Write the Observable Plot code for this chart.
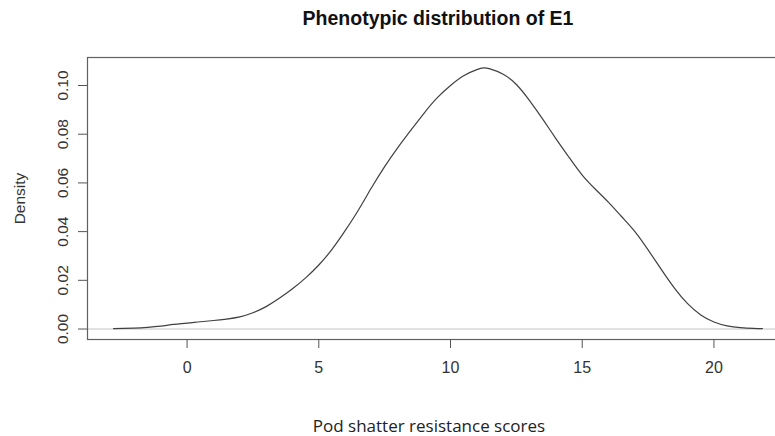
<!DOCTYPE html>
<html>
<head>
<meta charset="utf-8">
<script src="https://cdn.jsdelivr.net/npm/d3@7"></script>
<script src="https://cdn.jsdelivr.net/npm/@observablehq/plot@0.6"></script>
<style>
  html, body { margin: 0; padding: 0; background: #fff; overflow: hidden; width: 775px; height: 436px; }
  #chart { width: 775px; height: 436px; overflow: hidden; position: relative; }
  #chart svg { max-width: none !important; position: absolute; left: 0; top: 0; }
</style>
</head>
<body>
<div id="chart"></div>
<script>
// Density curve (score, density)
const scores = [-2.79, -2.0, -1.5, -1.0, -0.5, 0.0, 0.5, 1.0, 1.5, 2.0, 2.5, 3.0, 3.5, 4.0, 4.5,
  5.0, 5.5, 6.0, 6.5, 7.0, 7.5, 8.0, 8.5, 9.0, 9.5, 10.0, 10.5, 11.0, 11.25, 11.5, 12.0, 12.5,
  13.0, 13.5, 14.0, 14.5, 15.0, 15.5, 16.0, 16.5, 17.0, 17.5, 18.0, 18.5, 19.0, 19.5, 20.0,
  20.5, 21.0, 21.5, 21.84];
const densities = [0.0002, 0.0004, 0.0007, 0.0012, 0.0019, 0.0024, 0.0030, 0.0035, 0.0041, 0.0050,
  0.0067, 0.0092, 0.0126, 0.0165, 0.0210, 0.0263, 0.0327, 0.0404, 0.0488, 0.0580, 0.0667, 0.0745,
  0.0817, 0.0887, 0.0950, 0.1000, 0.1040, 0.1065, 0.1072, 0.1068, 0.1046, 0.1004, 0.0938, 0.0862,
  0.0782, 0.0705, 0.0632, 0.0574, 0.0520, 0.0461, 0.0400, 0.0325, 0.0245, 0.0168, 0.0104, 0.0058,
  0.0029, 0.0013, 0.0006, 0.0003, 0.0002];
const xTicks = [0, 5, 10, 15, 20];
const yTicks = [0, 0.02, 0.04, 0.06, 0.08, 0.10];
const titleText = "Phenotypic distribution of E1";
const xLabel = "Pod shatter resistance scores";
const yLabel = "Density";

const points = scores.map((s, i) => ({score: s, density: densities[i]}));

const chart = Plot.plot({
  width: 789,
  height: 436,
  marginLeft: 87,
  marginTop: 57,
  marginBottom: 97,
  marginRight: 1,
  style: {fontFamily: "'Liberation Sans', Arial, sans-serif", background: "#fff", color: "#333", maxWidth: "none"},
  x: {domain: [-3.78, 22.83]},
  y: {domain: [-0.0043, 0.1115]},
  marks: [
    Plot.ruleY([0], {stroke: "#c4c4c4", strokeWidth: 1}),
    Plot.line(points, {x: "score", y: "density", stroke: "#404040", strokeWidth: 1.2, curve: "natural"}),
    Plot.frame({stroke: "#606060", strokeWidth: 1.2}),
    Plot.axisX({ticks: xTicks, tickSize: 9, tickPadding: 13, fontSize: 16, label: null, stroke: "#555", fill: "#333"}),
    Plot.axisY({ticks: yTicks, tickSize: 9, tickPadding: 11, tickRotate: -90, fontSize: 15.5, tickFormat: d3.format(".2f"), label: null, stroke: "#555", fill: "#333"}),
    Plot.text([yLabel], {frameAnchor: "left", dx: -67, rotate: -90, fontSize: 15.5, fill: "#333", textAnchor: "middle", lineAnchor: "middle"}),
    Plot.text([titleText], {frameAnchor: "top", dy: -39, fontSize: 19.5, fontWeight: "bold", fill: "#111", lineAnchor: "middle"}),
    Plot.text([xLabel], {frameAnchor: "bottom", dx: -9, dy: 87.5, fontSize: 17, fill: "#222", lineAnchor: "middle", fontFamily: "'Open Sans', 'Noto Sans', sans-serif"})
  ]
});
document.getElementById("chart").appendChild(chart);
</script>
</body>
</html>
